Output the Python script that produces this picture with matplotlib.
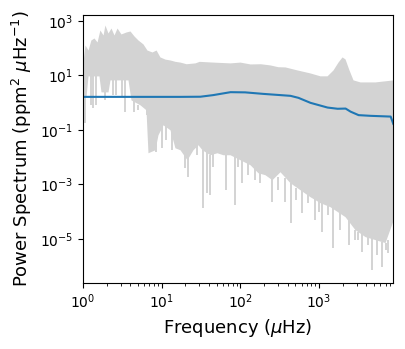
import numpy as np
from matplotlib import pyplot as plt
from matplotlib import ticker

# upper edge of the grey periodogram (muHz, ppm^2/muHz)
up_freq = [1.0, 1.06, 1.16, 1.26, 1.38, 1.51, 1.64, 1.80, 1.90, 2.08, 2.27, 2.48,
           2.71, 3.04, 3.52, 3.96, 4.45, 5.0, 5.79, 6.5, 7.54, 8.5, 9.5, 11.0,
           12.8, 14.8, 17.1, 20.5, 26.5, 30, 45, 74, 99, 133, 180, 238, 300, 370,
           525, 768, 1030, 1265, 1507, 1743, 1960, 2140, 2405, 2705, 3320, 5150, 8790]
up_power = [31, 132, 86, 201, 238, 170, 468, 307, 713, 363, 553, 307,
            553, 334, 395, 430, 282, 201, 144, 86, 73, 86, 48, 40,
            37, 33, 31, 27, 29, 33, 31, 29, 31, 26.5, 27, 24.4, 21, 20.6,
            16, 12.4, 9.7, 9.7, 16, 31, 48, 40.6, 16, 6.9, 5.8, 5.8, 6.9]

# lower edge of the dense part, as log10 values
lo_logf = [0, 0.038, 0.064, 0.203, 0.229, 0.318, 0.343, 0.572, 0.610, 0.725,
           0.801, 0.826, 0.915, 0.953, 1.017, 1.106, 1.169, 1.233, 1.322, 1.398,
           1.462, 1.513, 1.614, 1.703, 1.780, 1.869, 1.996, 2.123, 2.224, 2.313,
           2.402, 2.504, 2.631, 2.758, 2.885, 3.013, 3.139, 3.330, 3.457, 3.585,
           3.712, 3.839, 3.944]
lo_logp = [0.215, 0.215, 0.985, 0.985, 0.398, 0.398, 0.838, 0.838, 0.105, -0.078,
           -0.261, -1.837, -1.727, -1.177, -0.811, -0.994, -1.654, -1.727, -2.094,
           -1.727, -1.544, -1.727, -1.910, -1.837, -1.910, -1.910, -2.094, -2.277,
           -2.570, -2.643, -2.826, -2.533, -2.936, -3.193, -3.449, -3.669, -3.816,
           -4.182, -4.659, -4.915, -5.025, -5.135, -4.292]

# single-bin dips below the dense part (log10 freq, log10 bottom, log10 top)
dip_logf = [0.025, 0.102, 0.127, 0.165, 0.280, 0.381, 0.419, 0.496, 0.534, 0.648,
            0.699, 0.814, 0.928, 1.004, 1.055, 1.131, 1.297, 1.335, 1.449, 1.525,
            1.576, 1.614, 1.652, 1.818, 1.932, 1.970, 2.021, 2.097, 2.186, 2.250,
            2.402, 2.479, 2.568, 2.644, 2.707, 2.784, 2.860, 2.949, 3.0, 3.038,
            3.114, 3.178, 3.267, 3.381, 3.457, 3.496, 3.546, 3.623, 3.674, 3.737,
            3.801, 3.852, 3.877]
dip_logp = [-0.738, -0.078, -0.188, -0.078, 0.105, 0.288, 0.288, 0.215, -0.335, -0.335,
            -0.261, -0.445, -1.800, -1.654, -1.361, -1.727, -2.387, -2.716, -1.910, -3.852,
            -3.303, -3.376, -2.350, -3.193, -3.742, -2.350, -2.936, -2.643, -2.826, -2.936,
            -3.632, -3.193, -3.632, -4.402, -3.559, -4.036, -3.669, -4.292, -4.0, -4.732,
            -4.109, -5.318, -4.659, -5.208, -5.025, -5.025, -5.465, -5.208, -6.124, -5.575,
            -6.014, -5.391, -5.501]
dip_logtop = [0.215, 0.985, 0.985, 0.985, 0.398, 0.838, 0.838, 0.838, 0.838, 0.105,
              -0.078, -0.261, -1.177, -0.811, -0.811, -0.994, -1.910, -1.910, -1.544, -1.727,
              -1.727, -1.910, -1.837, -1.910, -1.910, -2.0, -2.094, -2.2, -2.4, -2.46,
              -2.753, -2.716, -2.753, -2.936, -3.12, -3.193, -3.376, -3.523, -3.6, -3.669,
              -3.78, -3.852, -4.0, -4.29, -4.659, -4.73, -4.805, -4.88, -4.952, -5.025,
              -5.098, -5.135, -5.025]

# smoothed spectrum
smooth_freq = [1.0, 7.1, 17.2, 31, 45, 75, 115, 196, 434, 548, 779, 1283,
               1722, 2177, 2519, 3185, 4530, 8140, 8790]
smooth_power = [1.64, 1.64, 1.64, 1.66, 1.9, 2.44, 2.4, 2.11, 1.79, 1.51, 0.99,
                0.665, 0.6, 0.61, 0.47, 0.35, 0.33, 0.31, 0.168]

lo_freq = 10 ** np.array(lo_logf)
lo_power = 10 ** np.array(lo_logp)

fig = plt.figure(figsize=(4.06, 3.49), dpi=100)
ax = fig.add_axes([0.2044, 0.189, 0.7643, 0.768])

grey = '#d3d3d3'
# fill between the two edges on a common frequency grid
grid = np.union1d(np.log10(up_freq), lo_logf)
top = np.interp(grid, np.log10(up_freq), np.log10(up_power))
bot = np.interp(grid, lo_logf, lo_logp)
ax.fill_between(10 ** grid, 10 ** top, 10 ** bot, color=grey, lw=0)
ax.vlines(10 ** np.array(dip_logf), 10 ** np.array(dip_logp),
          10 ** np.array(dip_logtop), color=grey, lw=1.4)
ax.plot(smooth_freq, smooth_power, color='#1f77b4', lw=1.5)

ax.set_xscale('log')
ax.set_yscale('log')
ax.set_xlim(1, 8790)
ax.set_ylim(2.4e-7, 1660)
ax.set_yticks([1e-5, 1e-3, 1e-1, 1e1, 1e3])
ax.yaxis.set_minor_locator(ticker.NullLocator())

ax.set_xlabel(r'Frequency ($\mu$Hz)', fontsize=13)
ax.set_ylabel(r'Power Spectrum (ppm$^2$ $\mu$Hz$^{-1}$)', fontsize=13)

fig.savefig('out.png', dpi=100)
